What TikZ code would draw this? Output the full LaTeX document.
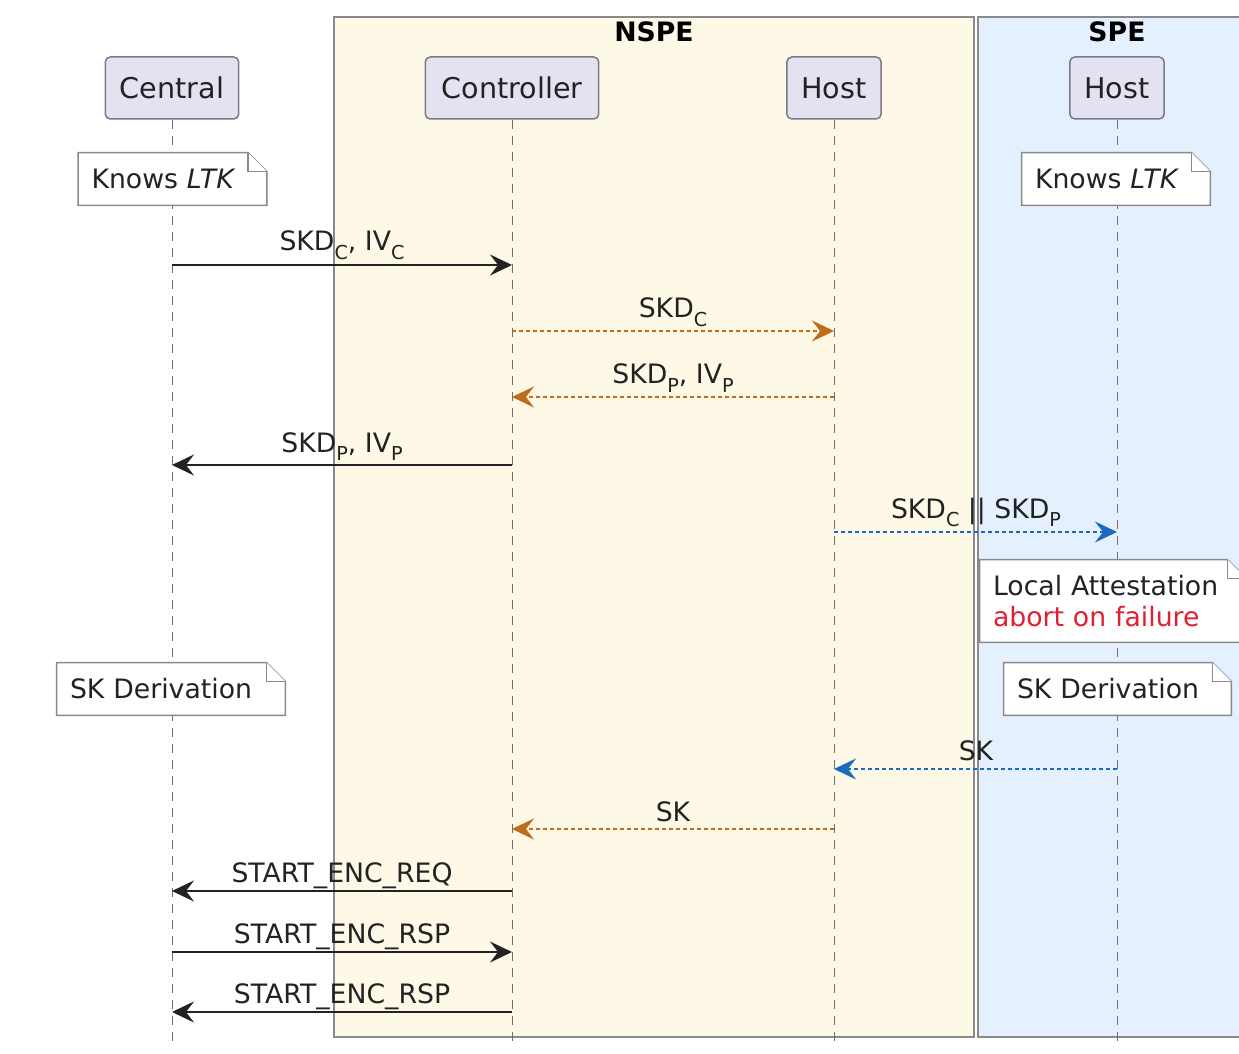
\documentclass[tikz,border=0pt]{standalone}
\usepackage{fontspec}
\setmainfont{DejaVu Sans}
\usetikzlibrary{arrows.meta}

\definecolor{inkc}{HTML}{222222}
\definecolor{partfill}{HTML}{E2E2F0}
\definecolor{partborder}{HTML}{7A7A8C}
\definecolor{nspefill}{HTML}{FEF8E7}
\definecolor{spefill}{HTML}{E4F0FD}
\definecolor{boxborder}{HTML}{8A8A8A}
\definecolor{lifegray}{HTML}{6E6E6E}
\definecolor{orangemsg}{HTML}{C06A1C}
\definecolor{bluemsg}{HTML}{1A6BC0}
\definecolor{failred}{HTML}{E02030}

\pgfdeclarelayer{boxes}
\pgfdeclarelayer{lines}
\pgfdeclarelayer{notebg}
\pgfsetlayers{boxes,lines,notebg,main}

\newcommand\msgfont{\fontsize{13.35}{15.5}\selectfont}
\newcommand\partfont{\fontsize{14.3}{16}\selectfont}
\newcommand\lowidx[1]{\raisebox{-4.3pt}{\fontsize{9.6}{10}\selectfont #1}}

% note outline with a folded corner, drawn behind the note text
\newcommand\notefold[1]{%
  \begin{pgfonlayer}{notebg}
    \filldraw[noteline] (#1.south west) -- (#1.north west)
      -- ([xshift=-9.5pt]#1.north east) -- ([yshift=-9.5pt]#1.north east)
      -- (#1.south east) -- cycle;
    \draw[noteline] ([xshift=-9.5pt]#1.north east) |- ([yshift=-9.5pt]#1.north east);
  \end{pgfonlayer}}

\tikzset{
  participant/.style={draw=partborder, fill=partfill, line width=0.75pt,
    rounded corners=2.5pt, minimum height=31pt, inner xsep=7.3pt,
    font=\partfont, text=inkc},
  noteline/.style={draw=boxborder, fill=white, line width=0.7pt},
  notetext/.style={font=\msgfont, text=inkc, inner xsep=6.5pt, inner ysep=0pt,
    align=left},
  lifeline/.style={draw=lifegray, line width=0.5pt, dash pattern=on 4.5pt off 3.5pt},
  headtip/.style={-{Stealth[length=11pt, width=10.5pt, inset=4pt]}},
  msgsolid/.style={draw=inkc, line width=1pt, headtip},
  msgorange/.style={draw=orangemsg, line width=0.7pt, dash pattern=on 2pt off 1.5pt, headtip},
  msgblue/.style={draw=bluemsg, line width=0.7pt, dash pattern=on 2pt off 1.5pt, headtip},
  msglabel/.style={font=\msgfont, text=inkc, anchor=base, inner sep=0pt},
  grouptitle/.style={font=\msgfont\bfseries, text=black, inner sep=0pt}
}

\begin{document}
\begin{tikzpicture}[x=0.5pt, y=-0.5pt]
\useasboundingbox (0,0) rectangle (1239,1054);
\clip (0,0) rectangle (1239,1054);

% group boxes
\begin{pgfonlayer}{boxes}
  \fill[white] (0,0) rectangle (1239,1054);
  \filldraw[fill=nspefill, draw=boxborder, line width=0.75pt] (334,17) rectangle (974,1037);
  \filldraw[fill=spefill, draw=boxborder, line width=0.75pt] (978,17) rectangle (1260,1037);
\end{pgfonlayer}
\node[grouptitle] (nspeT) at (654,32) {NSPE};
\node[grouptitle] (speT) at (1117,32) {SPE};

% participants
\node[participant] (cen) at (172,88) {Central};
\node[participant, inner xsep=8.2pt] (ctl) at (512,88) {Controller};
\node[participant] (hst) at (834,88) {Host};
\node[participant] (shst) at (1117,88) {Host};

% lifelines
\coordinate (bottom) at (0,1046);
\begin{pgfonlayer}{lines}
  \foreach \p in {cen,ctl,hst,shst}
    \draw[lifeline] (\p.south) -- (\p.south |- bottom);
\end{pgfonlayer}

% notes
\node[notetext, text width=81pt, minimum height=26pt] (ltkL) at (172.5,179) {Knows \textit{LTK}};
\notefold{ltkL}
\node[notetext, text width=81pt, minimum height=26pt] (ltkR) at (1116,179) {Knows \textit{LTK}};
\notefold{ltkR}
\node[notetext, text width=120pt, minimum height=41pt] (attest) at (1113,601)
  {Local Attestation\\\textcolor{failred}{abort on failure}};
\notefold{attest}
\node[notetext, text width=101pt, minimum height=26pt] (skdL) at (171,689) {SK Derivation};
\notefold{skdL}
\node[notetext, text width=100.5pt, minimum height=26pt] (skdR) at (1117.5,689) {SK Derivation};
\notefold{skdR}

% message rows
\coordinate (r1) at (0,265);
\coordinate (r2) at (0,331);
\coordinate (r3) at (0,397);
\coordinate (r4) at (0,465);
\coordinate (r5) at (0,532);
\coordinate (r6) at (0,769);
\coordinate (r7) at (0,829);
\coordinate (r8) at (0,891);
\coordinate (r9) at (0,952);
\coordinate (r10) at (0,1012);

\draw[msgsolid] (cen |- r1) -- (ctl |- r1);
\node[msglabel] (l1) at (342,251) {SKD\lowidx{C}, IV\lowidx{C}};

\draw[msgorange] (ctl |- r2) -- (hst |- r2);
\node[msglabel] (l2) at (673,318) {SKD\lowidx{C}};

\draw[msgorange] (hst |- r3) -- (ctl |- r3);
\node[msglabel] (l3) at (673,384) {SKD\lowidx{P}, IV\lowidx{P}};

\draw[msgsolid] (ctl |- r4) -- (cen |- r4);
\node[msglabel] (l4) at (342,452) {SKD\lowidx{P}, IV\lowidx{P}};

\draw[msgblue] (hst |- r5) -- (shst |- r5);
\node[msglabel] (l5) at (976,518) {SKD\lowidx{C} || SKD\lowidx{P}};

\draw[msgblue] (shst |- r6) -- (hst |- r6);
\node[msglabel] (l6) at (976,760) {SK};

\draw[msgorange] (hst |- r7) -- (ctl |- r7);
\node[msglabel] (l7) at (673,821) {SK};

\draw[msgsolid] (ctl |- r8) -- (cen |- r8);
\node[msglabel] (l8) at (342,882) {START\_ENC\_REQ};

\draw[msgsolid] (cen |- r9) -- (ctl |- r9);
\node[msglabel] (l9) at (342,943) {START\_ENC\_RSP};

\draw[msgsolid] (ctl |- r10) -- (cen |- r10);
\node[msglabel] (l10) at (342,1003) {START\_ENC\_RSP};

\end{tikzpicture}
\end{document}
